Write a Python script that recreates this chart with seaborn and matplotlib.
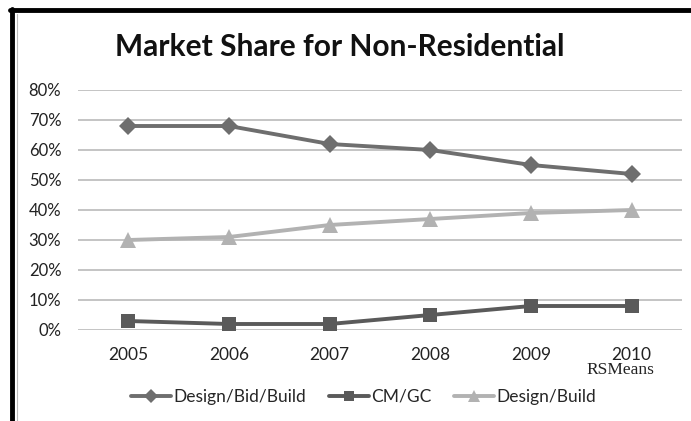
import matplotlib
matplotlib.use("Agg")
import matplotlib.pyplot as plt
import seaborn as sns
import pandas as pd
from matplotlib.lines import Line2D
from matplotlib.ticker import FuncFormatter

years = ["2005", "2006", "2007", "2008", "2009", "2010"]
design_bid_build = [68, 68, 62, 60, 55, 52]
cm_gc = [3, 2, 2, 5, 8, 8]
design_build = [30, 31, 35, 37, 39, 40]
series_names = ["Design/Bid/Build", "CM/GC", "Design/Build"]

sns.set_theme(style="white")
plt.rcParams['font.family'] = ['Lato', 'DejaVu Sans']

df = pd.DataFrame({
    "Year": years * 3,
    "Share": design_bid_build + cm_gc + design_build,
    "Series": [series_names[0]] * 6 + [series_names[1]] * 6 + [series_names[2]] * 6,
})
df["Share"] = df["Share"] / 100.0

fig = plt.figure(figsize=(6.91, 4.21), dpi=100)
ax = fig.add_axes([78 / 691, 1 - 330 / 421, (682 - 78) / 691, 240 / 421])

palette = {series_names[0]: "#6e6e6e", series_names[1]: "#5a5a5a", series_names[2]: "#b2b2b2"}
markers = {series_names[0]: "D", series_names[1]: "s", series_names[2]: "^"}
sizes = {series_names[0]: 9.5, series_names[1]: 10.5, series_names[2]: 11.5}

for name in series_names:
    sub = df[df["Series"] == name]
    sns.lineplot(data=sub, x="Year", y="Share", ax=ax, color=palette[name],
                 marker=markers[name], markersize=sizes[name], linewidth=2.8,
                 markeredgewidth=0, label=name, sort=False)

ax.set_xlim(-0.5, 5.5)
ax.set_ylim(0, 0.8)
ax.set_yticks([i / 10 for i in range(9)])
ax.yaxis.set_major_formatter(FuncFormatter(lambda v, p: f"{v*100:.0f}%"))
ax.grid(axis="y", color="#c4c4c4", linewidth=1.4)
ax.grid(axis="x", visible=False)
ax.set_axisbelow(True)
for s in ax.spines.values():
    s.set_visible(False)
ax.set_xlabel("")
ax.set_ylabel("")
ax.tick_params(axis="y", labelsize=12, colors="#222222", pad=12, length=0)
ax.tick_params(axis="x", labelsize=12.5, colors="#222222", pad=12, length=0)

handles, labels = ax.get_legend_handles_labels()
ax.get_legend().remove()
fig.legend(handles, labels, loc="center left", bbox_to_anchor=(131 / 691, 1 - 397 / 421),
           ncol=3, frameon=False, fontsize=12.5, handlelength=2.3, columnspacing=1.3,
           handletextpad=0.15, borderpad=0, borderaxespad=0, markerscale=0.75)

fig.text(340 / 691, 1 - 47 / 421, "Market Share for Non-Residential", ha="center",
         va="center", fontsize=21.5, fontweight="bold", color="#111111")
fig.text(620 / 691, 1 - 370 / 421, "RSMeans", ha="center", va="center",
         fontsize=12.5, family=["Liberation Serif", "DejaVu Serif"], color="#222222")

fig.add_artist(Line2D([10 / 691, 1], [1 - 10 / 421, 1 - 10 / 421], color="black", linewidth=3.5))
fig.add_artist(Line2D([12 / 691, 12 / 691], [0, 1 - 9 / 421], color="black", linewidth=3.5))
fig.add_artist(Line2D([17 / 691, 17 / 691], [0, 1 - 14 / 421], color="#bbbbbb", linewidth=0.8))

fig.savefig("out.png", dpi=100)
